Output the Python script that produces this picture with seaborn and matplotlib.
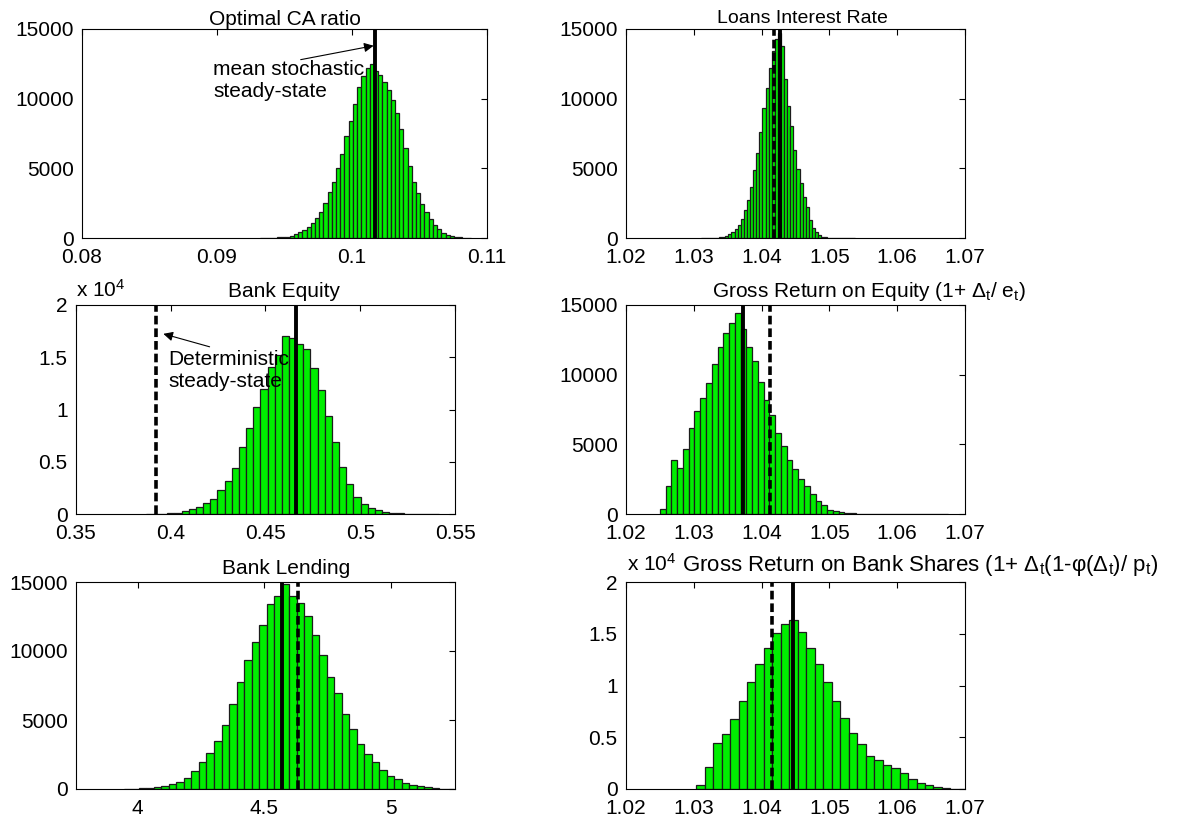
import numpy as np
import pandas as pd
import matplotlib
matplotlib.use("Agg")
import matplotlib.pyplot as plt
import seaborn as sns

# ---------------- data ----------------
ca_bin_start = 0.0932
ca_bin_width = 0.000312
ca_counts = [5, 10, 15, 25, 40, 60, 100, 170, 270, 410, 580, 780, 1060, 1400, 1880,
             2500, 3270, 4000, 5000, 6050, 7300, 8400, 9650, 10850, 11650, 12200,
             12500, 12000, 11700, 11200, 10600, 9900, 9000, 7850, 6450, 5150, 4000,
             3250, 2450, 1850, 1350, 930, 620, 370, 240, 150, 85, 40, 20, 10]
ca_stoch = 0.10173

lr_bin_start = 1.0310
lr_bin_width = 0.000456
lr_counts = [2, 3, 5, 8, 12, 20, 40, 80, 155, 275, 430, 630, 930, 1350, 2020, 2730,
             3690, 4850, 6080, 7600, 9300, 10750, 12200, 13450, 14250, 14700, 13750,
             11400, 9450, 8050, 6280, 4940, 3980, 2970, 2200, 1300, 700, 430, 220, 100,
             60, 35, 20, 12, 8, 5, 4, 3, 2, 1]
lr_stoch = 1.0427
lr_determ = 1.0418

eq_bin_start = 0.3868
eq_bin_width = 0.00378
eq_counts = [5, 10, 25, 60, 130, 270, 460, 710, 1030, 1460, 2270, 3200, 4420, 6380,
             8240, 10220, 12000, 14100, 15200, 17000, 16800, 16300, 15800, 14000, 11900,
             9400, 6900, 4500, 2900, 1600, 1000, 600, 350, 200, 130, 60, 30, 15, 8, 5, 3]
eq_stoch = 0.4660
eq_determ = 0.3924

roe_bin_start = 1.0250
roe_bin_width = 0.00085
roe_counts = [330, 2000, 3850, 3320, 4700, 6200, 7400, 8300, 9400, 10750, 12000, 13000,
              13730, 14450, 13300, 12020, 11000, 9480, 8170, 7090, 5780, 4850, 3840,
              3250, 2500, 1990, 1420, 940, 626, 313, 190, 110, 60, 40, 30, 20, 10, 10,
              5, 5, 5, 3, 3, 2, 0, 2, 0, 0, 0, 2]
roe_stoch = 1.0373
roe_determ = 1.0412

bl_bin_start = 3.945
bl_bin_width = 0.0297
bl_counts = [10, 20, 40, 80, 145, 240, 385, 480, 790, 1280, 1930, 2600, 3490, 4650,
             6140, 7780, 9340, 10670, 11870, 13400, 13950, 14880, 14000, 13480, 12520,
             11150, 9700, 8140, 6930, 5440, 4330, 3275, 2530, 1930, 1350, 915, 720, 433,
             313, 190, 120, 60, 30, 15]
bl_stoch = 4.570
bl_determ = 4.635

bs_bin_start = 1.03035
bs_bin_width = 0.00125
bs_counts = [400, 2150, 4450, 5300, 6750, 8550, 10370, 12040, 13580, 15050, 15930,
             16370, 15150, 13580, 12040, 10370, 8550, 6840, 5380, 4380, 3180, 2770,
             2340, 2020, 1530, 960, 580, 350, 190, 80, 30, 10]
bs_stoch = 1.0447
bs_determ = 1.0415

titles = ["Optimal CA ratio", "Loans Interest Rate", "Bank Equity",
          r"Gross Return on Equity (1+ $\Delta_\mathrm{t}$/ e$_\mathrm{t}$)",
          "Bank Lending",
          r"Gross Return on Bank Shares (1+ $\Delta_\mathrm{t}$(1-φ($\Delta_\mathrm{t}$)/ p$_\mathrm{t}$)"]
exp_label = r"x 10$^4$"

x_ticks_ca = [0.08, 0.09, 0.10, 0.11]
x_labels_ca = ["0.08", "0.09", "0.1", "0.11"]
x_ticks_eq = [0.35, 0.40, 0.45, 0.50, 0.55]
x_labels_eq = ["0.35", "0.4", "0.45", "0.5", "0.55"]
x_ticks_bl = [4.0, 4.5, 5.0]
x_labels_bl = ["4", "4.5", "5"]
x_ticks_r = [1.02, 1.03, 1.04, 1.05, 1.06, 1.07]
x_labels_r = ["1.02", "1.03", "1.04", "1.05", "1.06", "1.07"]
y_ticks_15 = [0, 5000, 10000, 15000]
y_labels_15 = ["0", "5000", "10000", "15000"]
y_ticks_20 = [0, 5000, 10000, 15000, 20000]
y_labels_20 = ["0", "0.5", "1", "1.5", "2"]

note_mean = "mean stochastic\nsteady-state"
note_det = "Deterministic\nsteady-state"

# ---------------- style ----------------
sns.set_theme(style="white")
plt.rcParams["font.family"] = ["Liberation Sans", "DejaVu Sans"]
plt.rcParams["mathtext.fontset"] = "custom"
plt.rcParams["mathtext.rm"] = "Liberation Sans"
plt.rcParams["mathtext.it"] = "Liberation Sans:italic"
plt.rcParams["mathtext.sf"] = "Liberation Sans"
plt.rcParams["text.color"] = "black"
plt.rcParams["axes.labelcolor"] = "black"
plt.rcParams["xtick.color"] = "black"
plt.rcParams["ytick.color"] = "black"

GREEN = "#00ee00"
EDGE = "#1c1c1c"
FS = 15

W, H = 1186, 823
fig = plt.figure(figsize=(W / 100, H / 100), dpi=100)
fig.patch.set_facecolor("white")


def px_axes(x0, y0, x1, y1):
    return fig.add_axes([x0 / W, 1 - y1 / H, (x1 - x0) / W, (y1 - y0) / H])


def fig_text(x, y, s, **kw):
    kw.setdefault("fontsize", FS)
    kw.setdefault("va", "baseline")
    fig.text(x / W, 1 - y / H, s, color="black", **kw)


def hist_panel(ax, start, width, counts):
    edges = start + width * np.arange(len(counts) + 1)
    centers = 0.5 * (edges[:-1] + edges[1:])
    df = pd.DataFrame({"value": centers, "count": np.asarray(counts, float)})
    sns.histplot(data=df, x="value", weights="count", bins=[float(e) for e in edges],
                 ax=ax, color=GREEN, edgecolor=EDGE, linewidth=0.9, alpha=1.0)
    ax.set_xlabel("")
    ax.set_ylabel("")


def style_axes(ax, xlim, xt, xl, yt, yl, ylim):
    ax.set_xlim(*xlim)
    ax.set_ylim(*ylim)
    ax.set_xticks(xt)
    ax.set_xticklabels(xl)
    ax.set_yticks(yt)
    ax.set_yticklabels(yl)
    ax.tick_params(direction="in", top=True, right=True, length=4, width=0.8,
                   labelsize=FS, colors="black")
    ax.tick_params(axis="x", pad=7)
    ax.tick_params(axis="y", pad=6)
    for s in ax.spines.values():
        s.set_visible(True)
        s.set_color("black")
        s.set_linewidth(0.8)
    ax.set_facecolor("white")


def vlines(ax, stoch=None, determ=None):
    if determ is not None:
        ax.axvline(determ, color="black", lw=2.6, ls=(0, (2.4, 1.1)), zorder=5)
    if stoch is not None:
        ax.axvline(stoch, color="black", lw=2.8, zorder=6)


ARROW = dict(arrowstyle="-|>", color="black", lw=0.8, mutation_scale=14,
             shrinkA=0, shrinkB=0)

# Panel 1
ax1 = px_axes(82, 29, 487, 238)
hist_panel(ax1, ca_bin_start, ca_bin_width, ca_counts)
style_axes(ax1, (0.08, 0.11), x_ticks_ca, x_labels_ca, y_ticks_15, y_labels_15, (0, 15000))
vlines(ax1, stoch=ca_stoch)
fig_text(285, 25, titles[0], ha="center")
ax1.annotate("", xy=(0.1016, 13800), xytext=(0.0962, 12800), arrowprops=ARROW, zorder=7)
ax1.text(0.0897, 11300, note_mean, fontsize=FS, va="center", ha="left", zorder=7,
         color="black")

# Panel 2
ax2 = px_axes(626, 29, 965, 238)
hist_panel(ax2, lr_bin_start, lr_bin_width, lr_counts)
style_axes(ax2, (1.02, 1.07), x_ticks_r, x_labels_r, y_ticks_15, y_labels_15, (0, 15000))
vlines(ax2, stoch=lr_stoch, determ=lr_determ)
fig_text(802, 23, titles[1], ha="center", fontsize=14)

# Panel 3
ax3 = px_axes(76, 305, 455, 514)
hist_panel(ax3, eq_bin_start, eq_bin_width, eq_counts)
style_axes(ax3, (0.35, 0.55), x_ticks_eq, x_labels_eq, y_ticks_20, y_labels_20, (0, 20000))
vlines(ax3, stoch=eq_stoch, determ=eq_determ)
fig_text(284, 297, titles[2], ha="center")
fig_text(76, 297, exp_label, ha="left")
ax3.annotate("", xy=(0.3961, 17240), xytext=(0.4205, 16000), arrowprops=ARROW, zorder=7)
ax3.text(0.3987, 13700, note_det, fontsize=FS, va="center", ha="left", zorder=7,
         color="black")

# Panel 4
ax4 = px_axes(626, 305, 965, 514)
hist_panel(ax4, roe_bin_start, roe_bin_width, roe_counts)
style_axes(ax4, (1.02, 1.07), x_ticks_r, x_labels_r, y_ticks_15, y_labels_15, (0, 15000))
vlines(ax4, stoch=roe_stoch, determ=roe_determ)
fig_text(712, 297, titles[3], ha="left")

# Panel 5
ax5 = px_axes(76, 582, 455, 789)
hist_panel(ax5, bl_bin_start, bl_bin_width, bl_counts)
style_axes(ax5, (3.756, 5.254), x_ticks_bl, x_labels_bl, y_ticks_15, y_labels_15, (0, 15000))
vlines(ax5, stoch=bl_stoch, determ=bl_determ)
fig_text(286, 574, titles[4], ha="center")

# Panel 6
ax6 = px_axes(626, 582, 965, 789)
hist_panel(ax6, bs_bin_start, bs_bin_width, bs_counts)
style_axes(ax6, (1.02, 1.07), x_ticks_r, x_labels_r, y_ticks_20, y_labels_20, (0, 20000))
vlines(ax6, stoch=bs_stoch, determ=bs_determ)
fig_text(627, 571, exp_label, ha="left")
fig_text(682, 571, titles[5], ha="left", fontsize=16)

fig.savefig("out.png", dpi=100, facecolor="white")
